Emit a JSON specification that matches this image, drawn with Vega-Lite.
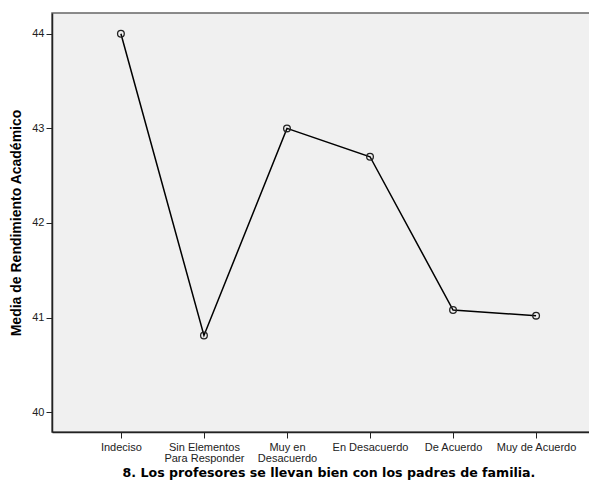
{
  "$schema": "https://vega.github.io/schema/vega-lite/v6.json",
  "autosize": "none",
  "width": 553,
  "height": 419,
  "padding": {"left": 52, "top": 13, "right": 0, "bottom": 53},
  "background": "white",
  "config": {
    "font": "Liberation Sans",
    "view": {"fill": "#f0f0f0", "stroke": "#666666", "strokeWidth": 1.5}
  },
  "data": {
    "values": [
      {"respuesta": "Indeciso", "media": 44.0},
      {"respuesta": "Sin Elementos Para Responder", "media": 40.81},
      {"respuesta": "Muy en Desacuerdo", "media": 43.0},
      {"respuesta": "En Desacuerdo", "media": 42.70},
      {"respuesta": "De Acuerdo", "media": 41.08},
      {"respuesta": "Muy de Acuerdo", "media": 41.02}
    ]
  },
  "encoding": {
    "x": {
      "field": "respuesta",
      "type": "nominal",
      "sort": null,
      "scale": {"type": "point", "padding": 0.83},
      "axis": {
        "title": "8. Los profesores se llevan bien con los padres de familia.",
        "titleFont": "DejaVu Sans",
        "titleFontSize": 12.6,
        "titleFontWeight": "bold",
        "titleColor": "black",
        "titlePadding": 3,
        "labelAngle": 0,
        "labelFontSize": 11,
        "labelColor": "#222222",
        "labelPadding": 3,
        "labelLineHeight": 11,
        "labelExpr": "datum.label == 'Sin Elementos Para Responder' ? ['Sin Elementos', 'Para Responder'] : datum.label == 'Muy en Desacuerdo' ? ['Muy en', 'Desacuerdo'] : datum.label",
        "domainColor": "#222222",
        "domainWidth": 1.5,
        "tickColor": "#222222",
        "tickSize": 6,
        "grid": false
      }
    },
    "y": {
      "field": "media",
      "type": "quantitative",
      "scale": {"domain": [39.79, 44.22], "nice": false, "zero": false},
      "axis": {
        "title": "Media de Rendimiento Académico",
        "titleFont": "Liberation Sans",
        "titleFontSize": 14,
        "titleFontWeight": "bold",
        "titleColor": "black",
        "titlePadding": 8,
        "values": [40, 41, 42, 43, 44],
        "labelFontSize": 11,
        "labelColor": "#222222",
        "labelPadding": 2,
        "domainColor": "#222222",
        "domainWidth": 1.5,
        "tickColor": "#222222",
        "tickSize": 6,
        "grid": false
      }
    }
  },
  "layer": [
    {"mark": {"type": "line", "color": "black", "strokeWidth": 1.5}},
    {"mark": {"type": "point", "shape": "circle", "filled": false, "color": "#222222", "size": 45, "strokeWidth": 1.3, "opacity": 1}}
  ]
}
